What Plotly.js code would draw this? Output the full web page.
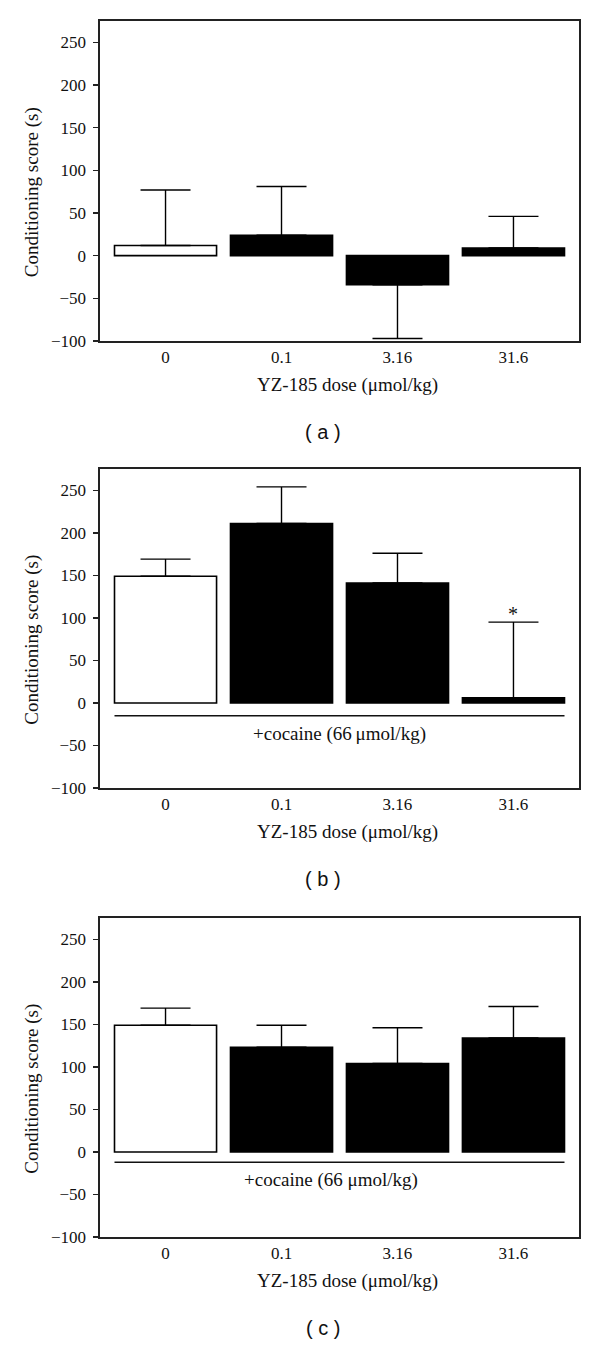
<!DOCTYPE html>
<html>
<head>
<meta charset="utf-8">
<script src="https://cdn.plot.ly/plotly-3.0.1.min.js"></script>
<style>
  html, body { margin: 0; padding: 0; background: #fff; }
  #chart { width: 600px; height: 1345px; }
</style>
</head>
<body>
<div id="chart"></div>
<script>
// ---- data ----
const doses = ['0', '0.1', '3.16', '31.6'];
const xAxisTitle = 'YZ-185 dose (\u03bcmol/kg)';
const yAxisTitle = 'Conditioning score (s)';
const panelLabels = ['( a )', '( b )', '( c )'];

// panel (a): YZ-185 alone
const scoreA = [12, 24, -34, 9];
const semA   = [65, 57, 63, 37];
// panel (b): YZ-185 + cocaine
const scoreB = [149, 211, 141, 6];
const semB   = [20, 43, 35, 89];
// panel (c)
const scoreC = [149, 123, 104, 134];
const semC   = [20, 26, 42, 37];

const cocaineText = ['+cocaine (66\u2009\u03bcmol/kg)', '+cocaine (66 \u03bcmol/kg)'];
const cocaineLineLevel = [-15, -12];   // y of the bracket line in (b) and (c)
const cocaineTextLevel = [-37, -33];
const significance = { panel: 1, doseIndex: 3, mark: '*', level: 104 };

const yTicks = [-100, -50, 0, 50, 100, 150, 200, 250];
const yRange = [-100, 275];

// ---- styling ----
const serif = '"Liberation Serif", "Times New Roman", serif';
const sans = '"Liberation Sans", Arial, sans-serif';
const axisColor = '#222';
const barWidth = 0.88;
const fills = doses.map((d, i) => i === 0 ? '#ffffff' : '#000000');

const panels = [
  { score: scoreA, sem: semA, top: 21,  bottom: 341 },
  { score: scoreB, sem: semB, top: 469, bottom: 788 },
  { score: scoreC, sem: semC, top: 918, bottom: 1237 }
];
const H = 1345, W = 600;
const xDom = [100 / W, 579 / W];

const traces = [];
const layout = {
  width: W, height: H,
  margin: { l: 0, r: 0, t: 0, b: 0 },
  paper_bgcolor: '#fff', plot_bgcolor: '#fff',
  showlegend: false,
  font: { family: serif, color: '#111', size: 17 },
  annotations: [],
  shapes: []
};

panels.forEach((p, k) => {
  const sfx = k === 0 ? '' : String(k + 1);
  const xa = 'x' + sfx, ya = 'y' + sfx;
  traces.push({
    type: 'bar',
    x: doses,
    y: p.score,
    xaxis: xa, yaxis: ya,
    width: barWidth,
    marker: { color: fills, line: { color: '#000', width: 1.6 } },
    error_y: {
      type: 'data', symmetric: false,
      array: p.score.map((v, i) => v >= 0 ? p.sem[i] : 0),
      arrayminus: p.score.map((v, i) => v < 0 ? p.sem[i] : 0),
      color: '#000', thickness: 1.4, width: 25
    },
    hoverinfo: 'x+y'
  });
  const yd = [1 - p.bottom / H, 1 - p.top / H];
  layout['xaxis' + sfx] = {
    domain: xDom, anchor: ya, type: 'category',
    range: [-0.565, doses.length - 1 + 0.565],
    showline: true, mirror: true, linecolor: axisColor, linewidth: 1.6,
    ticks: '', showgrid: false, zeroline: false,
    tickfont: { family: serif, size: 17, color: '#111' }
  };
  layout['yaxis' + sfx] = {
    domain: yd, anchor: xa, range: yRange,
    tickvals: yTicks, ticktext: yTicks.map(v => v < 0 ? '\u2212' + Math.abs(v) : String(v)),
    ticks: 'outside', ticklen: 5, tickwidth: 1.5, tickcolor: axisColor,
    showline: true, mirror: true, linecolor: axisColor, linewidth: 1.6,
    showgrid: false, zeroline: false,
    ticklabelstandoff: 4,
    tickfont: { family: serif, size: 17, color: '#111' }
  };
  // axis titles
  layout.annotations.push({
    text: yAxisTitle, textangle: -90, showarrow: false,
    xref: 'paper', x: 32 / W, xanchor: 'center',
    yref: ya + ' domain', y: 0.465, yanchor: 'middle',
    font: { family: serif, size: 19, color: '#111' }
  });
  layout.annotations.push({
    text: xAxisTitle, showarrow: false,
    xref: 'paper', x: 347 / W, xanchor: 'center',
    yref: 'paper', y: 1 - (p.bottom + 44) / H, yanchor: 'middle',
    font: { family: serif, size: 19, color: '#111' }
  });
  layout.annotations.push({
    text: panelLabels[k], showarrow: false,
    xref: 'paper', x: 323 / W, xanchor: 'center',
    yref: 'paper', y: 1 - (p.bottom + 91) / H, yanchor: 'middle',
    font: { family: sans, size: 20, color: '#111' }
  });
  if (k > 0) {
    const lvl = cocaineLineLevel[k - 1];
    layout.shapes.push({
      type: 'line', xref: xa, yref: ya,
      x0: -barWidth / 2, x1: doses.length - 1 + barWidth / 2,
      y0: lvl, y1: lvl,
      line: { color: '#111', width: 1.5 }
    });
    layout.annotations.push({
      text: cocaineText[k - 1], showarrow: false,
      xref: xa, x: k === 1 ? 1.5 : 1.43, xanchor: 'center',
      yref: ya, y: cocaineTextLevel[k - 1], yanchor: 'middle',
      font: { family: serif, size: 19, color: '#111' }
    });
  }
});

// significance marker (category index used as x position)
{
  const k = significance.panel;
  const sfx = k === 0 ? '' : String(k + 1);
  layout.annotations.push({
    text: significance.mark, showarrow: false,
    xref: 'x' + sfx, x: significance.doseIndex, xanchor: 'center',
    yref: 'y' + sfx, y: significance.level, yanchor: 'middle',
    font: { family: serif, size: 20, color: '#111' }
  });
}

Plotly.newPlot('chart', traces, layout, { displayModeBar: false, staticPlot: true });
</script>
</body>
</html>
